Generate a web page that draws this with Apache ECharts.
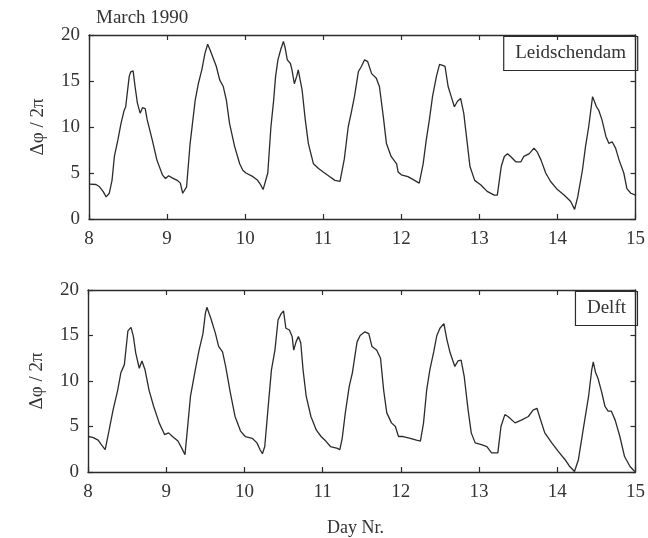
<!DOCTYPE html>
<html>
<head>
<meta charset="utf-8">
<script src="https://cdn.jsdelivr.net/npm/echarts@6/dist/echarts.min.js"></script>
<style>
  html, body { margin: 0; padding: 0; background: #fff; }
  #chart { width: 648px; height: 538px; }
</style>
</head>
<body>
<div id="chart"></div>
<script>
// phase difference (day number, cycles)
const leidDays = [
  8.00, 8.09, 8.135, 8.18, 8.22, 8.24, 8.26, 8.295, 8.325, 8.37, 8.41, 8.45, 8.47, 8.515, 8.535, 8.565,
  8.59, 8.62, 8.655, 8.685, 8.72, 8.745, 8.81, 8.87, 8.94, 8.98, 9.02, 9.06, 9.13, 9.17, 9.20, 9.22,
  9.25, 9.295, 9.36, 9.40, 9.445, 9.485, 9.52, 9.55, 9.59, 9.63, 9.675, 9.72, 9.76, 9.80, 9.865, 9.93,
  9.97, 10.01, 10.10, 10.16, 10.20, 10.23, 10.25, 10.29, 10.33, 10.365, 10.39, 10.42, 10.455, 10.49, 10.51, 10.54,
  10.58, 10.60, 10.63, 10.66, 10.68, 10.70, 10.73, 10.77, 10.81, 10.875, 10.94, 11.00, 11.085, 11.15, 11.215, 11.235,
  11.27, 11.32, 11.36, 11.40, 11.45, 11.49, 11.53, 11.57, 11.62, 11.68, 11.72, 11.77, 11.81, 11.87, 11.94, 11.96,
  12.00, 12.085, 12.17, 12.23, 12.28, 12.32, 12.36, 12.40, 12.45, 12.49, 12.53, 12.56, 12.60, 12.64, 12.68, 12.72,
  12.76, 12.80, 12.84, 12.88, 12.94, 13.02, 13.10, 13.19, 13.23, 13.28, 13.32, 13.36, 13.40, 13.47, 13.53, 13.57,
  13.64, 13.70, 13.74, 13.79, 13.85, 13.91, 14.00, 14.085, 14.17, 14.22, 14.26, 14.32, 14.36, 14.40, 14.45, 14.47,
  14.50, 14.53, 14.57, 14.62, 14.66, 14.70, 14.745, 14.79, 14.85, 14.89, 14.94, 15.00
]
const leidPhase = [
  3.8, 3.75, 3.5, 3.0, 2.4, 2.4, 2.8, 4.2, 6.8, 8.6, 10.4, 11.8, 12.2, 15.5, 16.0, 16.1,
  14.4, 12.6, 11.5, 12.1, 12.0, 10.8, 8.6, 6.4, 4.8, 4.4, 4.7, 4.5, 4.2, 3.9, 2.8, 2.6,
  3.5, 8.2, 12.9, 14.7, 16.2, 18.0, 19.0, 18.4, 17.5, 16.6, 15.1, 14.4, 12.9, 10.4, 7.9, 6.0,
  5.3, 5.0, 4.6, 4.2, 3.7, 3.2, 3.3, 5.0, 10.0, 12.9, 15.5, 17.3, 18.4, 19.3, 18.7, 17.3,
  16.9, 16.2, 14.7, 15.5, 16.2, 16.0, 14.0, 10.8, 8.2, 6.0, 5.5, 5.1, 4.6, 4.2, 4.1, 4.2,
  6.5, 10.0, 11.6, 13.3, 16.0, 16.6, 17.3, 17.1, 15.8, 15.3, 14.4, 11.1, 8.2, 6.8, 6.0, 5.1,
  4.8, 4.6, 4.2, 3.9, 6.0, 8.6, 10.8, 13.3, 15.5, 16.8, 16.7, 16.6, 14.4, 13.3, 12.2, 12.8,
  13.1, 11.5, 8.6, 5.7, 4.2, 3.7, 3.0, 2.6, 2.6, 5.7, 6.8, 7.1, 6.8, 6.2, 6.2, 6.8,
  7.1, 7.7, 7.3, 6.4, 5.0, 4.1, 3.2, 2.6, 1.9, 1.05, 2.4, 5.3, 7.9, 10.0, 13.3, 13.5,
  12.2, 11.8, 10.8, 9.0, 8.2, 8.4, 7.7, 6.4, 5.0, 3.3, 2.8, 2.6
]

const delftDays = [
  8.00, 8.06, 8.13, 8.17, 8.22, 8.245, 8.27, 8.32, 8.38, 8.42, 8.465, 8.51, 8.55, 8.58, 8.61, 8.655,
  8.69, 8.73, 8.78, 8.84, 8.91, 8.98, 9.03, 9.08, 9.15, 9.20, 9.24, 9.27, 9.31, 9.38, 9.42, 9.47,
  9.50, 9.52, 9.57, 9.63, 9.67, 9.72, 9.76, 9.82, 9.88, 9.95, 10.01, 10.10, 10.16, 10.20, 10.23, 10.26,
  10.30, 10.345, 10.39, 10.43, 10.47, 10.50, 10.53, 10.575, 10.61, 10.63, 10.66, 10.69, 10.72, 10.75, 10.79, 10.85,
  10.92, 10.98, 11.04, 11.10, 11.19, 11.22, 11.25, 11.29, 11.34, 11.38, 11.44, 11.48, 11.54, 11.59, 11.63, 11.69,
  11.74, 11.78, 11.82, 11.88, 11.93, 11.97, 12.03, 12.12, 12.20, 12.25, 12.29, 12.33, 12.37, 12.42, 12.46, 12.50,
  12.55, 12.59, 12.63, 12.69, 12.73, 12.77, 12.81, 12.86, 12.90, 12.95, 13.03, 13.10, 13.16, 13.24, 13.28, 13.33,
  13.37, 13.46, 13.54, 13.63, 13.69, 13.74, 13.78, 13.84, 13.93, 14.01, 14.10, 14.16, 14.22, 14.23, 14.27, 14.33,
  14.40, 14.44, 14.46, 14.49, 14.52, 14.57, 14.61, 14.65, 14.69, 14.74, 14.80, 14.86, 14.93, 14.99
]
const delftPhase = [
  3.9, 3.8, 3.5, 3.0, 2.45, 2.6, 4.6, 6.8, 9.0, 10.9, 11.8, 15.5, 15.9, 14.9, 13.1, 11.4,
  12.2, 11.2, 9.0, 7.2, 5.4, 4.1, 4.3, 3.9, 3.4, 2.6, 1.9, 4.6, 8.3, 11.6, 13.4, 15.2,
  17.4, 18.1, 16.9, 15.2, 13.8, 13.2, 11.6, 8.7, 6.1, 4.5, 3.9, 3.7, 3.2, 2.45, 2.0, 2.8,
  6.8, 11.2, 13.4, 16.7, 17.4, 17.7, 15.8, 15.6, 14.9, 13.4, 14.3, 14.9, 14.2, 11.2, 8.3, 6.1,
  4.6, 3.9, 3.4, 2.8, 2.6, 2.45, 3.7, 6.5, 9.4, 10.9, 14.3, 15.0, 15.4, 15.2, 13.8, 13.4,
  12.5, 9.0, 6.5, 5.4, 5.0, 3.9, 3.9, 3.7, 3.5, 3.4, 5.4, 9.0, 11.2, 13.2, 15.0, 15.8,
  16.3, 14.5, 13.1, 11.6, 12.2, 12.3, 10.5, 6.8, 4.3, 3.2, 3.0, 2.8, 2.1, 2.1, 5.0, 6.3,
  6.1, 5.4, 5.7, 6.1, 6.8, 7.0, 5.9, 4.3, 3.2, 2.3, 1.35, 0.6, 0.05, 0.15, 1.35, 4.6,
  8.3, 11.2, 12.1, 10.9, 10.3, 8.7, 7.2, 6.7, 6.7, 5.7, 3.9, 1.7, 0.6, 0.05
]

const stations = ['Leidschendam', 'Delft']
const dayTicks = [8, 15]
const phaseTicks = [0, 20]

const serif = '"Liberation Serif", "DejaVu Serif", serif'
const ink = '#2b2b2b'

const chart = echarts.init(document.getElementById('chart'))

const pairs = (xs, ys) => xs.map((x, i) => [x, ys[i]])

// one x and one y axis on each side of a panel, so the frame gets inward ticks all round
const xAxisFor = (gridIndex, position, showLabels) => ({
  type: 'value',
  gridIndex: gridIndex,
  position: position,
  min: dayTicks[0],
  max: dayTicks[1],
  interval: 1,
  axisLine: { show: true, onZero: false, lineStyle: { color: ink, width: 1.4 } },
  axisTick: { show: true, inside: true, length: 5, lineStyle: { color: ink, width: 1.2 } },
  axisLabel: { show: showLabels, margin: 11, color: '#333', fontSize: 19, fontFamily: serif },
  splitLine: { show: false }
})

const yAxisFor = (gridIndex, position, showLabels, name) => ({
  type: 'value',
  gridIndex: gridIndex,
  position: position,
  min: phaseTicks[0],
  max: phaseTicks[1],
  interval: 5,
  name: name || '',
  nameLocation: 'middle',
  nameGap: 41,
  nameTextStyle: { color: '#333', fontSize: 19, fontFamily: serif },
  axisLine: { show: true, onZero: false, lineStyle: { color: ink, width: 1.4 } },
  axisTick: { show: true, inside: true, length: 5, lineStyle: { color: ink, width: 1.2 } },
  axisLabel: { show: showLabels, margin: 9, color: '#333', fontSize: 19, fontFamily: serif },
  splitLine: { show: false }
})

const option = {
  animation: false,
  backgroundColor: '#fff',
  title: [
    {
      text: 'March 1990', left: 96, top: 9, padding: 0,
      textStyle: { color: '#333', fontSize: 19, fontWeight: 'normal', fontFamily: serif }
    },
    {
      text: stations[0], right: 10, top: 36, padding: [8, 12],
      borderColor: ink, borderWidth: 1.2,
      textStyle: { color: '#333', fontSize: 19, fontWeight: 'normal', fontFamily: serif }
    },
    {
      text: stations[1], right: 10, top: 291, padding: [8, 12],
      borderColor: ink, borderWidth: 1.2,
      textStyle: { color: '#333', fontSize: 19, fontWeight: 'normal', fontFamily: serif }
    },
    {
      text: 'Day Nr.', left: 327, top: 519, padding: 0,
      textStyle: { color: '#333', fontSize: 18, fontWeight: 'normal', fontFamily: serif }
    }
  ],
  grid: [
    { left: 89, right: 10, top: 35, height: 184 },
    { left: 88, right: 10, top: 290, height: 182 }
  ],
  xAxis: [
    xAxisFor(0, 'bottom', true),
    xAxisFor(0, 'top', false),
    xAxisFor(1, 'bottom', true),
    xAxisFor(1, 'top', false)
  ],
  yAxis: [
    yAxisFor(0, 'left', true, 'Δφ / 2π'),
    yAxisFor(0, 'right', false),
    yAxisFor(1, 'left', true, 'Δφ / 2π'),
    yAxisFor(1, 'right', false)
  ],
  series: [
    {
      name: stations[0],
      type: 'line',
      xAxisIndex: 0,
      yAxisIndex: 0,
      showSymbol: false,
      data: pairs(leidDays, leidPhase),
      lineStyle: { color: ink, width: 1.3 }
    },
    {
      name: stations[1],
      type: 'line',
      xAxisIndex: 2,
      yAxisIndex: 2,
      showSymbol: false,
      data: pairs(delftDays, delftPhase),
      lineStyle: { color: ink, width: 1.3 }
    }
  ]
}

chart.setOption(option)
</script>
</body>
</html>
